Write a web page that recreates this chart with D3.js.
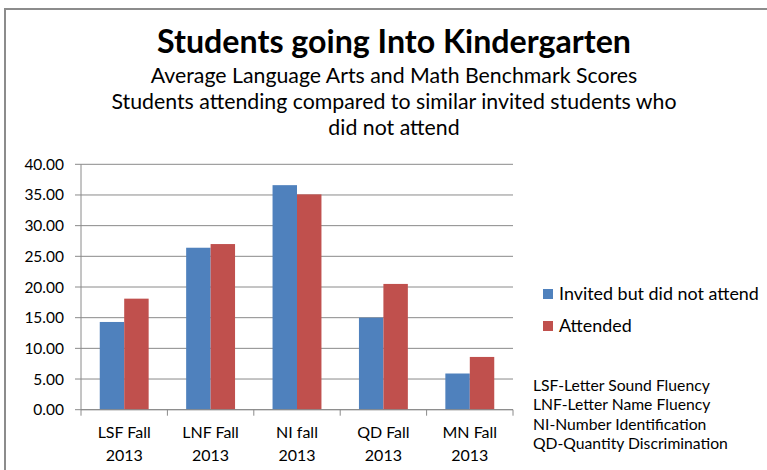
<!DOCTYPE html>
<html>
<head>
<meta charset="utf-8">
<script src="https://cdn.jsdelivr.net/npm/d3@7"></script>
<style>
  body { margin: 0; background: #fff; }
  text { font-family: Lato, "Open Sans", sans-serif; fill: #000; }
</style>
</head>
<body>
<svg></svg>
<script>
const width = 767;
const height = 470;

const categories = ['LSF Fall|2013', 'LNF Fall|2013', 'NI fall|2013', 'QD Fall|2013', 'MN Fall|2013'];
const invited = [14.3, 26.4, 36.6, 15.0, 5.9];
const attended = [18.1, 27.0, 35.1, 20.5, 8.6];
const seriesNames = ['Invited but did not attend', 'Attended'];
const colors = ['#4f81bd', '#c0504d'];
const yTicks = [0, 5, 10, 15, 20, 25, 30, 35, 40];
const notes = ['LSF-Letter Sound Fluency', 'LNF-Letter Name Fluency', 'NI-Number Identification', 'QD-Quantity Discrimination'];
const titleLines = ['Average Language Arts and Math Benchmark Scores',
  'Students attending compared to similar invited students who',
  'did not attend'];

const svg = d3.select('svg')
  .attr('width', width)
  .attr('height', height);

// outer chart frame
svg.append('rect')
  .attr('x', 5).attr('y', 9)
  .attr('width', width + 10).attr('height', height + 10)
  .attr('fill', 'none')
  .attr('stroke', '#8c8c8c')
  .attr('stroke-width', 2);

// font size that makes a text span the given width
function fitSize(sel, w) {
  const len = sel.node().getComputedTextLength();
  return parseFloat(sel.attr('font-size')) * w / len;
}

const title = svg.append('text')
  .attr('x', 394).attr('y', 53)
  .attr('text-anchor', 'middle')
  .attr('font-size', 28)
  .attr('font-weight', 'bold')
  .text('Students going Into Kindergarten');
title.attr('font-size', fitSize(title, 474));

const subs = titleLines.map((t, i) => svg.append('text')
  .attr('x', 394).attr('y', 83 + i * 26)
  .attr('text-anchor', 'middle')
  .attr('font-size', 19)
  .text(t));
const subSize = fitSize(subs[0], 487);
subs.forEach(s => s.attr('font-size', subSize));

const plot = { left: 81, right: 513, top: 164.3, bottom: 409.7 };

const y = d3.scaleLinear()
  .domain([0, 40])
  .range([plot.bottom, plot.top]);

const x0 = d3.scaleBand()
  .domain(categories)
  .range([plot.left, plot.right]);

const x1 = d3.scaleBand()
  .domain(seriesNames)
  .range([x0.bandwidth() * 0.217, x0.bandwidth() * 0.783]);

const g = svg.append('g');

// gridlines
g.selectAll('line.grid')
  .data(yTicks)
  .enter()
  .append('line')
  .attr('class', 'grid')
  .attr('x1', plot.left - 6)
  .attr('x2', plot.right)
  .attr('y1', d => y(d))
  .attr('y2', d => y(d))
  .attr('stroke', '#8a8a8a')
  .attr('stroke-width', 1);

// y axis line
g.append('line')
  .attr('x1', plot.left).attr('x2', plot.left)
  .attr('y1', plot.top).attr('y2', plot.bottom)
  .attr('stroke', '#8a8a8a');

g.selectAll('text.ytick')
  .data(yTicks)
  .enter()
  .append('text')
  .attr('class', 'ytick')
  .attr('x', 64)
  .attr('y', d => y(d) + 5.5)
  .attr('text-anchor', 'end')
  .attr('font-size', 15.5)
  .text(d => d.toFixed(2));

// bars
const rows = categories.map((c, i) => ({ cat: c, vals: [invited[i], attended[i]] }));

const groups = g.selectAll('g.cat')
  .data(rows)
  .enter()
  .append('g')
  .attr('transform', d => `translate(${x0(d.cat)},0)`);

groups.selectAll('rect')
  .data(d => d.vals.map((v, j) => ({ name: seriesNames[j], v: v, j: j })))
  .enter()
  .append('rect')
  .attr('x', d => x1(d.name))
  .attr('width', x1.bandwidth())
  .attr('y', d => y(d.v))
  .attr('height', d => y(0) - y(d.v))
  .attr('fill', d => colors[d.j]);

// x axis
g.append('line')
  .attr('x1', plot.left).attr('x2', plot.right)
  .attr('y1', plot.bottom).attr('y2', plot.bottom)
  .attr('stroke', '#8a8a8a');

const tickXs = categories.map(c => x0(c)).concat([plot.right]);
g.selectAll('line.xtick')
  .data(tickXs)
  .enter()
  .append('line')
  .attr('x1', d => d).attr('x2', d => d)
  .attr('y1', plot.bottom).attr('y2', plot.bottom + 6)
  .attr('stroke', '#8a8a8a');

groups.each(function(d) {
  const parts = d.cat.split('|');
  const t = d3.select(this).append('text')
    .attr('text-anchor', 'middle')
    .attr('font-size', 16);
  parts.forEach((p, k) => {
    t.append('tspan')
      .attr('x', x0.bandwidth() / 2)
      .attr('y', 438 + k * 23)
      .text(p);
  });
});

// legend
const legend = svg.append('g');
const legTexts = seriesNames.map((s, i) => {
  legend.append('rect')
    .attr('x', 543).attr('y', 289 + i * 32)
    .attr('width', 10).attr('height', 10)
    .attr('fill', colors[i]);
  return legend.append('text')
    .attr('x', 559).attr('y', 300 + i * 32)
    .attr('font-size', 16)
    .text(s);
});
const legSize = fitSize(legTexts[0], 200);
legTexts.forEach(t => t.attr('font-size', legSize));

const noteTexts = notes.map((n, i) => svg.append('text')
  .attr('x', 533).attr('y', 391 + i * 19.3)
  .attr('font-size', 14)
  .text(n));
const noteSize = fitSize(noteTexts[3], 195);
noteTexts.forEach(t => t.attr('font-size', noteSize));
</script>
</body>
</html>
